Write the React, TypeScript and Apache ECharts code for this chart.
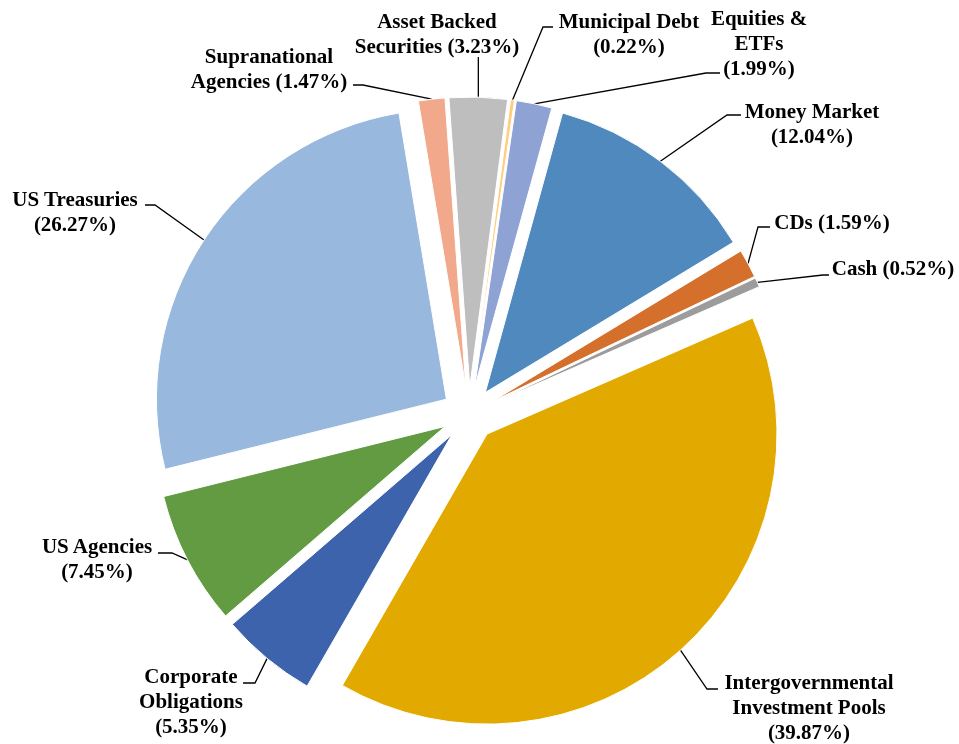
import React, { useEffect, useRef } from "react";
import * as echarts from "echarts";

const categories = [
  "Municipal Debt",
  "Equities &\nETFs",
  "Money Market",
  "CDs",
  "Cash",
  "Intergovernmental\nInvestment Pools",
  "Corporate\nObligations",
  "US Agencies",
  "US Treasuries",
  "Supranational\nAgencies",
  "Asset Backed\nSecurities",
];
const percents = [0.22, 1.99, 12.04, 1.59, 0.52, 39.87, 5.35, 7.45, 26.27, 1.47, 3.23];
const colors = [
  "#FFCD7D",
  "#8EA3D4",
  "#4F89BD",
  "#D4702C",
  "#9C9C9C",
  "#E2AA00",
  "#3D63AD",
  "#629B41",
  "#98B8DE",
  "#F1A88B",
  "#BEBEBE",
];
// whether the percentage goes on its own line
const pctOnNewLine = [true, true, true, false, false, true, true, true, true, false, false];

// Label placement: label centre x, centre y, leader elbow x, elbow y, leader end x
// (NaN for x = straight vertical leader from the slice)
const labelPlacement: number[][] = [
  [629, 33, 543, 27, 553],
  [759, 43, 706, 73, 720],
  [812, 123, 727, 115, 741],
  [832, 222, 758, 227, 770],
  [893, 268, 823, 275, 829],
  [809, 707, 707, 689, 718],
  [191, 701, 255, 683, 243],
  [97, 558, 172, 553, 158],
  [75, 211, 155, 205, 145],
  [269, 68, 363, 85, 353],
  [437, 33, NaN, 57, NaN],
];

const CENTER = [469, 414];
const RADIUS = 290;
const EXPLODE = 27;
const START_ANGLE = 82.5;
const FONT = 'bold 21px "Liberation Serif", "Times New Roman", serif';

export default function App() {
  const ref = useRef<HTMLDivElement>(null);
  useEffect(() => {
    if (!ref.current) return;
    const chart = echarts.init(ref.current, null, { renderer: "svg" });
    const total = percents.reduce((a, b) => a + b, 0);
    const data = categories.map((name, i) => ({
      name,
      value: percents[i],
      selected: true,
      itemStyle: { color: colors[i] },
    }));

    const graphics: any[] = [];
    let cum = 0;
    percents.forEach((v, i) => {
      const midDeg = START_ANGLE - ((cum + v / 2) / total) * 360;
      cum += v;
      const rad = (midDeg * Math.PI) / 180;
      const rr = RADIUS + EXPLODE;
      const sx = CENTER[0] + rr * Math.cos(rad);
      const sy = CENTER[1] - rr * Math.sin(rad);
      const pl = labelPlacement[i];
      const ex = isNaN(pl[2]) ? sx : pl[2];
      const endX = isNaN(pl[4]) ? sx : pl[4];
      graphics.push({
        type: "polyline",
        silent: true,
        shape: {
          points: [
            [sx, sy],
            [ex, pl[3]],
            [endX, pl[3]],
          ],
        },
        style: { stroke: "#000", lineWidth: 1.3, fill: null },
      });
      const pct = `(${v.toFixed(2)}%)`;
      const text = pctOnNewLine[i]
        ? `${categories[i]}\n${pct}`
        : `${categories[i]} ${pct}`;
      graphics.push({
        type: "text",
        silent: true,
        x: pl[0],
        y: pl[1],
        style: {
          text,
          font: FONT,
          fill: "#000",
          lineHeight: 25,
          align: "center",
          textAlign: "center",
          verticalAlign: "middle",
          textVerticalAlign: "middle",
        },
      });
    });

    chart.setOption({
      animation: false,
      series: [
        {
          type: "pie",
          center: CENTER,
          radius: RADIUS,
          startAngle: START_ANGLE,
          clockwise: true,
          selectedMode: "multiple",
          selectedOffset: EXPLODE,
          avoidLabelOverlap: false,
          itemStyle: { borderColor: "#ffffff", borderWidth: 1 },
          emphasis: { disabled: true },
          select: { itemStyle: { borderColor: "#ffffff", borderWidth: 1 } },
          label: { show: false },
          labelLine: { show: false },
          data,
        },
      ],
      graphic: graphics,
    });
    return () => chart.dispose();
  }, []);
  return (
    <div
      ref={ref}
      style={{ position: "fixed", left: 0, top: 0, width: 959, height: 744 }}
    />
  );
}
